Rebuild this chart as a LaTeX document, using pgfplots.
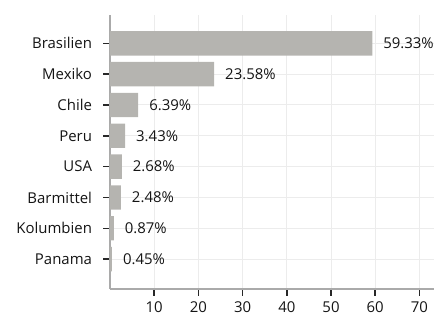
\documentclass[border=0pt]{standalone}
\usepackage{fontspec}
\setmainfont{Open Sans}
\usepackage{pgfplots}
\pgfplotsset{compat=1.18}
\definecolor{barc}{RGB}{181,180,176}
\definecolor{axc}{RGB}{170,170,170}
\definecolor{gridc}{RGB}{236,236,236}
\definecolor{tickc}{RGB}{40,40,40}
\definecolor{txtc}{RGB}{20,20,20}
\begin{document}
\begin{tikzpicture}
\begin{axis}[name=ax,
  scale only axis, width=324bp, height=274bp,
  xbar, bar width=0.79,
  xmin=0, xmax=73.3, ymin=-0.97, ymax=7.92,
  ytick={0,...,7},
  yticklabels={Panama,Kolumbien,Barmittel,USA,Peru,Chile,Mexiko,Brasilien},
  xtick={10,20,...,70},
  axis x line*=bottom, axis y line*=left,
  axis line style={-, color=axc, line width=1.5bp},
  tick style={color=tickc, line width=1.5bp},
  major tick length=6.5bp, tick align=outside,
  grid=major, major grid style={color=gridc, line width=1bp},
  font=\fontsize{15}{17}\selectfont,
  tick label style={color=txtc},
  yticklabel style={xshift=-8bp},
  xticklabel style={yshift=-3bp},
  /pgf/number format/assume math mode=true,
  point meta=explicit symbolic,
  nodes near coords,
  nodes near coords style={anchor=west, xshift=7.5bp, color=txtc, font=\fontsize{15}{17}\selectfont},
]
\addplot[fill=barc, draw=none] coordinates {
  (0.45,0) [0.45\%]
  (0.87,1) [0.87\%]
  (2.48,2) [2.48\%]
  (2.68,3) [2.68\%]
  (3.43,4) [3.43\%]
  (6.39,5) [6.39\%]
  (23.58,6) [23.58\%]
  (59.33,7) [59.33\%]
};
\end{axis}
\pgfresetboundingbox
\path[use as bounding box] ([shift={(-110bp,-26bp)}]ax.south west) rectangle ([shift={(2bp,15bp)}]ax.north east);
\end{tikzpicture}
\end{document}
